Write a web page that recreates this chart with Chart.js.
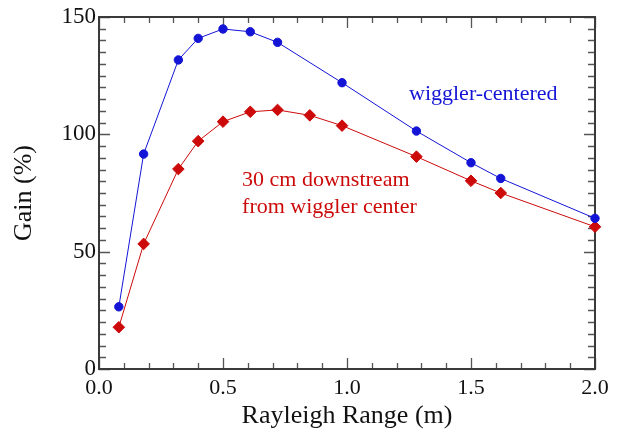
<!DOCTYPE html>
<html>
<head>
<meta charset="utf-8">
<script src="https://cdn.jsdelivr.net/npm/chart.js@4/dist/chart.umd.min.js"></script>
<style>
  html, body { margin: 0; padding: 0; background: #ffffff; }
  #wrap { width: 619px; height: 432px; }
</style>
</head>
<body>
<div id="wrap"><canvas id="c" width="619" height="432"></canvas></div>
<script>
// ---- Data ----
const rayleighCentered = [0.08, 0.18, 0.32, 0.40, 0.50, 0.61, 0.72, 0.98, 1.28, 1.50, 1.62, 2.00];
const gainCentered     = [26.5, 91.6, 131.7, 140.9, 144.9, 143.7, 139.2, 122.0, 101.4, 87.9, 81.2, 64.2];

const rayleighDown = [0.08, 0.18, 0.32, 0.40, 0.50, 0.61, 0.72, 0.85, 0.98, 1.28, 1.50, 1.62, 2.00];
const gainDown     = [17.8, 53.3, 85.2, 97.1, 105.4, 109.6, 110.4, 108.1, 103.7, 90.5, 80.2, 75.0, 60.6];

const xTickValues = [0, 0.5, 1.0, 1.5, 2.0];
const yTickValues = [0, 50, 100, 150];

const labelCentered = 'wiggler-centered';
const labelDown = ['30 cm downstream', 'from wiggler center'];

const BLUE = '#1414d6';
const RED = '#cc0a0a';
const FONT = "'Liberation Serif', 'Times New Roman', serif";

function toXY(xs, ys) { return xs.map((x, i) => ({ x: x, y: ys[i] })); }

const framePlugin = {
  id: 'frameTicks',
  beforeDatasetsDraw(chart) {
    const { ctx, chartArea: a, scales: { x, y } } = chart;
    ctx.save();
    ctx.strokeStyle = '#555555';
    ctx.lineWidth = 1.3;
    // x ticks (minor every 0.1, major every 0.5), bottom and top, inward
    for (let i = 0; i <= 20; i++) {
      const v = i / 10;
      const px = Math.round(x.getPixelForValue(v)) + 0.5;
      const len = (i % 5 === 0) ? 11 : 6;
      ctx.beginPath();
      ctx.moveTo(px, a.bottom); ctx.lineTo(px, a.bottom - len);
      ctx.moveTo(px, a.top); ctx.lineTo(px, a.top + len);
      ctx.stroke();
    }
    // y ticks (minor every 5, major every 50), left and right, inward
    for (let j = 0; j <= 30; j++) {
      const v = j * 5;
      const py = Math.round(y.getPixelForValue(v)) + 0.5;
      const len = (j % 10 === 0) ? 11 : 7;
      ctx.beginPath();
      ctx.moveTo(a.left, py); ctx.lineTo(a.left + len, py);
      ctx.moveTo(a.right, py); ctx.lineTo(a.right - len, py);
      ctx.stroke();
    }
    // frame
    ctx.strokeStyle = '#3a3a3a';
    ctx.lineWidth = 2;
    ctx.strokeRect(a.left, a.top, a.right - a.left, a.bottom - a.top);
    ctx.restore();
  },
  afterDatasetsDraw(chart) {
    const { ctx, scales: { x, y } } = chart;
    ctx.save();
    ctx.font = '22px ' + FONT;
    ctx.textBaseline = 'middle';
    ctx.textAlign = 'left';
    ctx.fillStyle = BLUE;
    ctx.fillText(labelCentered, x.getPixelForValue(1.25), y.getPixelForValue(117.2));
    ctx.fillStyle = RED;
    ctx.fillText(labelDown[0], x.getPixelForValue(0.577), y.getPixelForValue(80.5));
    ctx.fillText(labelDown[1], x.getPixelForValue(0.577), y.getPixelForValue(69.0));
    ctx.restore();
  }
};

new Chart(document.getElementById('c'), {
  type: 'scatter',
  data: {
    datasets: [
      {
        label: 'wiggler-centered',
        data: toXY(rayleighCentered, gainCentered),
        showLine: true,
        clip: false,
        borderColor: BLUE,
        backgroundColor: BLUE,
        borderWidth: 1,
        pointStyle: 'circle',
        pointRadius: 4.2,
        pointBorderWidth: 1,
        pointBorderColor: BLUE,
        pointBackgroundColor: BLUE,
        tension: 0
      },
      {
        label: '30 cm downstream from wiggler center',
        data: toXY(rayleighDown, gainDown),
        showLine: true,
        clip: false,
        borderColor: RED,
        backgroundColor: RED,
        borderWidth: 1,
        pointStyle: 'rectRot',
        pointRadius: 5.8,
        pointBorderWidth: 1,
        pointBorderColor: RED,
        pointBackgroundColor: RED,
        tension: 0
      }
    ]
  },
  options: {
    responsive: false,
    animation: false,
    devicePixelRatio: 1,
    layout: { padding: { left: 0, right: 24, top: 17, bottom: 0 } },
    plugins: {
      legend: { display: false },
      tooltip: { enabled: false }
    },
    scales: {
      x: {
        type: 'linear',
        min: 0, max: 2,
        afterFit(s) { s.height = 63; },
        afterBuildTicks(s) { s.ticks = xTickValues.map(v => ({ value: v })); },
        grid: { display: false, drawTicks: false },
        border: { display: false },
        ticks: {
          padding: 6,
          color: '#111111',
          font: { family: FONT, size: 22 },
          callback: v => Number(v).toFixed(1),
          maxRotation: 0
        },
        title: {
          display: true,
          text: 'Rayleigh Range (m)',
          color: '#111111',
          font: { family: FONT, size: 26, lineHeight: 1.2 },
          padding: { top: 0, bottom: 0 }
        }
      },
      y: {
        type: 'linear',
        min: 0, max: 150,
        afterFit(s) { s.width = 99; },
        afterBuildTicks(s) { s.ticks = yTickValues.map(v => ({ value: v })); },
        grid: { display: false, drawTicks: false },
        border: { display: false },
        ticks: {
          padding: 3,
          color: '#111111',
          font: { family: FONT, size: 23 }
        },
        title: {
          display: true,
          text: 'Gain (%)',
          color: '#111111',
          font: { family: FONT, size: 26, lineHeight: 1.2 },
          padding: { top: 9, bottom: 0 }
        }
      }
    }
  },
  plugins: [framePlugin]
});
</script>
</body>
</html>
